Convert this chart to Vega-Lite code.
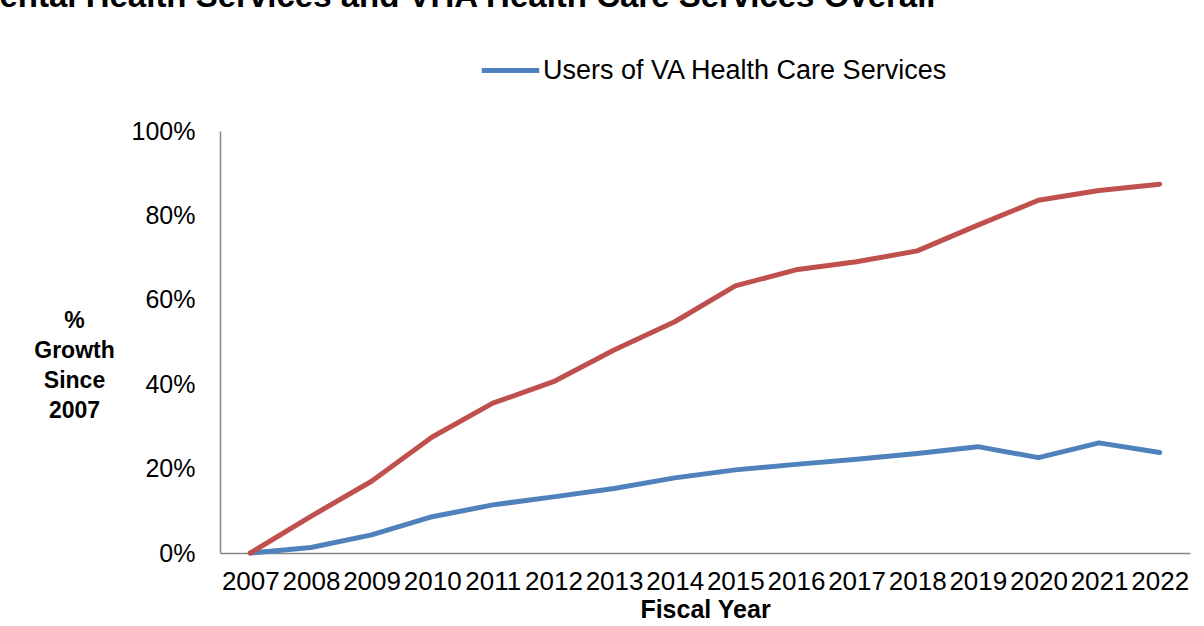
{
  "$schema": "https://vega.github.io/schema/vega-lite/v6.json",
  "autosize": "none",
  "width": 970,
  "height": 422,
  "padding": {"left": 220, "top": 131, "right": 14, "bottom": 73},
  "background": "white",
  "title": {
    "text": "Mental Health Services and VHA Health Care Services Overall",
    "anchor": "start",
    "frame": "group",
    "fontSize": 33,
    "font": "Liberation Sans",
    "fontWeight": "bold",
    "color": "black",
    "dx": -248,
    "offset": 25
  },
  "config": {
    "view": {"stroke": null},
    "font": "Liberation Sans"
  },
  "data": {
    "values": [
      {"year": "2007", "series": "Users of VA Health Care Services", "growth": 0.0},
      {"year": "2008", "series": "Users of VA Health Care Services", "growth": 0.013},
      {"year": "2009", "series": "Users of VA Health Care Services", "growth": 0.043},
      {"year": "2010", "series": "Users of VA Health Care Services", "growth": 0.086},
      {"year": "2011", "series": "Users of VA Health Care Services", "growth": 0.114},
      {"year": "2012", "series": "Users of VA Health Care Services", "growth": 0.133},
      {"year": "2013", "series": "Users of VA Health Care Services", "growth": 0.153},
      {"year": "2014", "series": "Users of VA Health Care Services", "growth": 0.178},
      {"year": "2015", "series": "Users of VA Health Care Services", "growth": 0.197},
      {"year": "2016", "series": "Users of VA Health Care Services", "growth": 0.21},
      {"year": "2017", "series": "Users of VA Health Care Services", "growth": 0.222},
      {"year": "2018", "series": "Users of VA Health Care Services", "growth": 0.236},
      {"year": "2019", "series": "Users of VA Health Care Services", "growth": 0.252},
      {"year": "2020", "series": "Users of VA Health Care Services", "growth": 0.226},
      {"year": "2021", "series": "Users of VA Health Care Services", "growth": 0.261},
      {"year": "2022", "series": "Users of VA Health Care Services", "growth": 0.238},
      {"year": "2007", "series": "Users of VA Mental Health Services", "growth": 0.0},
      {"year": "2008", "series": "Users of VA Mental Health Services", "growth": 0.087},
      {"year": "2009", "series": "Users of VA Mental Health Services", "growth": 0.17},
      {"year": "2010", "series": "Users of VA Mental Health Services", "growth": 0.275},
      {"year": "2011", "series": "Users of VA Mental Health Services", "growth": 0.355},
      {"year": "2012", "series": "Users of VA Mental Health Services", "growth": 0.406},
      {"year": "2013", "series": "Users of VA Mental Health Services", "growth": 0.481},
      {"year": "2014", "series": "Users of VA Mental Health Services", "growth": 0.548},
      {"year": "2015", "series": "Users of VA Mental Health Services", "growth": 0.633},
      {"year": "2016", "series": "Users of VA Mental Health Services", "growth": 0.671},
      {"year": "2017", "series": "Users of VA Mental Health Services", "growth": 0.69},
      {"year": "2018", "series": "Users of VA Mental Health Services", "growth": 0.716},
      {"year": "2019", "series": "Users of VA Mental Health Services", "growth": 0.777},
      {"year": "2020", "series": "Users of VA Mental Health Services", "growth": 0.836},
      {"year": "2021", "series": "Users of VA Mental Health Services", "growth": 0.859},
      {"year": "2022", "series": "Users of VA Mental Health Services", "growth": 0.874}
    ]
  },
  "mark": {"type": "line", "strokeWidth": 5, "strokeCap": "round", "strokeJoin": "round"},
  "encoding": {
    "x": {
      "field": "year",
      "type": "ordinal",
      "scale": {"type": "point", "padding": 0.5},
      "axis": {
        "title": "Fiscal Year",
        "titleFontSize": 25,
        "titleFontWeight": "bold",
        "titleColor": "black",
        "titlePadding": 3,
        "labelAngle": 0,
        "labelFontSize": 26,
        "labelColor": "black",
        "labelOverlap": false,
        "labelPadding": 15,
        "ticks": false,
        "domainColor": "#868686",
        "domainWidth": 1.5,
        "grid": false
      }
    },
    "y": {
      "field": "growth",
      "type": "quantitative",
      "scale": {"domain": [0, 1], "nice": false},
      "axis": {
        "title": ["%", "Growth", "Since", "2007"],
        "titleAngle": 0,
        "titleAlign": "center",
        "titleBaseline": "middle",
        "titleX": -146,
        "titleY": 189,
        "titleFontSize": 23,
        "titleFontWeight": "bold",
        "titleColor": "black",
        "titleLineHeight": 30,
        "values": [0, 0.2, 0.4, 0.6, 0.8, 1],
        "format": ".0%",
        "labelFontSize": 25,
        "labelColor": "black",
        "labelPadding": 25,
        "ticks": false,
        "grid": false,
        "domainColor": "#868686",
        "domainWidth": 1.5
      }
    },
    "color": {
      "field": "series",
      "type": "nominal",
      "scale": {
        "domain": ["Users of VA Health Care Services", "Users of VA Mental Health Services"],
        "range": ["#4F81BD", "#C0504D"]
      },
      "legend": {
        "values": ["Users of VA Health Care Services"],
        "orient": "none",
        "legendX": 259,
        "legendY": -92,
        "title": null,
        "labelFontSize": 27,
        "labelLimit": 0,
        "labelColor": "black",
        "symbolType": "stroke",
        "symbolSize": 3300,
        "symbolStrokeWidth": 5,
        "labelOffset": 1
      }
    }
  }
}
